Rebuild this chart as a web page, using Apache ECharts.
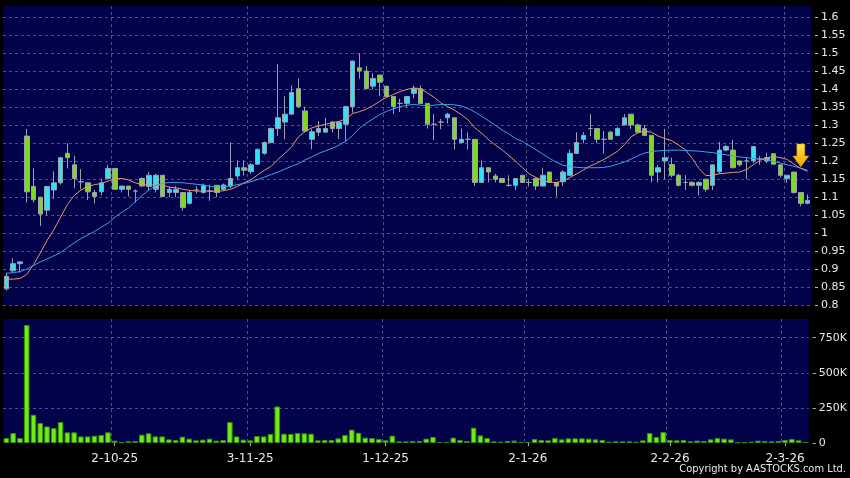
<!DOCTYPE html>
<html>
<head>
<meta charset="utf-8">
<script src="https://cdn.jsdelivr.net/npm/echarts@6/dist/echarts.min.js"></script>
<style>
html,body{margin:0;padding:0;background:#000;}
#chart{width:850px;height:478px;}
</style>
</head>
<body>
<div id="chart"></div>
<script>
const dates = [
'9-9-25','10-9-25','11-9-25','12-9-25','15-9-25','16-9-25','17-9-25','18-9-25','19-9-25','22-9-25','23-9-25','24-9-25','25-9-25','26-9-25','29-9-25','30-9-25',
'2-10-25','3-10-25','6-10-25','8-10-25','9-10-25','10-10-25','13-10-25','14-10-25','15-10-25','16-10-25','17-10-25','20-10-25','21-10-25','22-10-25','23-10-25','24-10-25','27-10-25','28-10-25','30-10-25','31-10-25',
'3-11-25','4-11-25','5-11-25','6-11-25','7-11-25','10-11-25','11-11-25','12-11-25','13-11-25','14-11-25','17-11-25','18-11-25','19-11-25','20-11-25','21-11-25','24-11-25','25-11-25','26-11-25','27-11-25','28-11-25',
'1-12-25','2-12-25','3-12-25','4-12-25','5-12-25','8-12-25','9-12-25','10-12-25','11-12-25','12-12-25','15-12-25','16-12-25','17-12-25','18-12-25','19-12-25','22-12-25','23-12-25','24-12-25','29-12-25','30-12-25','31-12-25',
'2-1-26','5-1-26','6-1-26','7-1-26','8-1-26','9-1-26','12-1-26','13-1-26','14-1-26','15-1-26','16-1-26','19-1-26','20-1-26','21-1-26','22-1-26','23-1-26','26-1-26','27-1-26','28-1-26','29-1-26','30-1-26',
'2-2-26','3-2-26','4-2-26','5-2-26','6-2-26','9-2-26','10-2-26','11-2-26','12-2-26','13-2-26','16-2-26','20-2-26','23-2-26','24-2-26','25-2-26','26-2-26','27-2-26',
'2-3-26','3-3-26','4-3-26','5-3-26'
];

const open = [
0.845,0.895,0.915,1.27,1.13,1.10,1.064,1.12,1.14,1.222,
1.19,1.143,1.14,1.113,1.115,1.152,1.18,1.122,1.131,1.117,
1.152,1.13,1.122,1.161,1.113,1.113,1.113,1.083,1.12,1.113,
1.117,1.133,1.122,1.131,1.159,1.182,1.171,1.192,1.222,1.252,
1.291,1.309,1.331,1.402,1.34,1.261,1.281,1.281,1.309,1.291,
1.303,1.352,1.46,1.451,1.409,1.44,1.409,1.38,1.361,1.361,
1.389,1.402,1.361,1.303,1.309,1.321,1.321,1.252,1.261,1.261,
1.141,1.182,1.159,1.152,1.133,1.133,1.161,1.141,1.152,1.131,
1.17,1.141,1.143,1.161,1.222,1.261,1.291,1.291,1.261,1.281,
1.272,1.301,1.331,1.301,1.291,1.272,1.17,1.201,1.191,1.161,
1.141,1.141,1.133,1.15,1.133,1.171,1.231,1.231,1.201,1.201,
1.201,1.206,1.201,1.221,1.19,1.152,1.17,1.113,1.083
];
const close = [
0.88,0.915,0.92,1.115,1.093,1.053,1.13,1.14,1.21,1.21,
1.152,1.143,1.115,1.102,1.14,1.18,1.122,1.131,1.122,1.117,
1.131,1.161,1.161,1.102,1.122,1.122,1.071,1.113,1.12,1.133,
1.117,1.113,1.134,1.152,1.182,1.175,1.19,1.233,1.252,1.291,
1.321,1.331,1.391,1.352,1.284,1.282,1.291,1.291,1.291,1.309,
1.352,1.479,1.451,1.402,1.43,1.42,1.38,1.352,1.361,1.38,
1.402,1.361,1.303,1.303,1.309,1.331,1.261,1.261,1.261,1.141,
1.182,1.17,1.15,1.141,1.133,1.152,1.141,1.141,1.131,1.161,
1.141,1.131,1.17,1.222,1.252,1.272,1.291,1.261,1.261,1.261,
1.291,1.321,1.301,1.281,1.272,1.161,1.182,1.21,1.161,1.133,
1.141,1.133,1.141,1.122,1.19,1.231,1.241,1.182,1.19,1.201,
1.241,1.206,1.21,1.192,1.161,1.161,1.113,1.083,1.091
];
const low = [
0.84,0.89,0.89,1.085,1.085,1.02,1.05,1.095,1.135,1.18,
1.125,1.122,1.092,1.083,1.105,1.15,1.122,1.113,1.102,1.085,
1.13,1.12,1.113,1.10,1.10,1.10,1.062,1.08,1.11,1.11,
1.09,1.10,1.118,1.125,1.15,1.16,1.165,1.19,1.218,1.25,
1.27,1.261,1.33,1.35,1.28,1.233,1.27,1.28,1.28,1.262,
1.256,1.335,1.43,1.40,1.40,1.381,1.378,1.331,1.337,1.35,
1.375,1.36,1.291,1.259,1.289,1.305,1.233,1.25,1.233,1.131,
1.14,1.141,1.141,1.141,1.13,1.12,1.14,1.13,1.12,1.13,
1.14,1.102,1.131,1.16,1.22,1.25,1.27,1.25,1.222,1.26,
1.27,1.30,1.29,1.28,1.27,1.141,1.141,1.15,1.155,1.13,
1.12,1.13,1.105,1.115,1.12,1.165,1.228,1.18,1.185,1.15,
1.195,1.19,1.195,1.19,1.155,1.14,1.11,1.075,1.08
];
const high = [
0.89,0.93,0.922,1.29,1.18,1.10,1.13,1.172,1.21,1.25,
1.215,1.178,1.14,1.12,1.152,1.19,1.18,1.131,1.131,1.122,
1.155,1.17,1.165,1.161,1.13,1.131,1.113,1.118,1.13,1.138,
1.135,1.133,1.138,1.252,1.203,1.203,1.195,1.236,1.255,1.294,
1.47,1.381,1.411,1.43,1.352,1.29,1.312,1.321,1.312,1.312,
1.355,1.48,1.5,1.465,1.445,1.44,1.409,1.38,1.374,1.382,
1.411,1.411,1.361,1.331,1.318,1.335,1.321,1.291,1.28,1.261,
1.203,1.182,1.165,1.152,1.161,1.152,1.161,1.152,1.152,1.182,
1.17,1.141,1.175,1.233,1.281,1.281,1.331,1.291,1.284,1.285,
1.295,1.331,1.331,1.305,1.301,1.272,1.19,1.29,1.21,1.165,
1.161,1.145,1.145,1.15,1.19,1.254,1.245,1.26,1.201,1.21,
1.241,1.215,1.224,1.221,1.19,1.161,1.17,1.113,1.108
];
const volumeK = [
35,71,35,840,201,142,118,106,149,76,
76,47,47,52,57,76,17,5,12,14,
59,69,47,47,26,21,45,31,19,24,
31,17,21,149,47,24,19,50,47,64,
260,66,64,71,69,66,19,21,21,33,
57,95,73,38,35,28,19,52,12,12,
14,14,31,43,7,7,38,21,14,109,
54,35,12,9,14,17,7,7,28,21,
19,35,26,33,33,33,31,26,21,9,
12,12,12,9,19,71,43,78,21,19,
21,12,17,14,26,35,31,26,5,5,
9,17,14,12,14,21,28,19,7
];
const maShort = [
0.872,0.872,0.874,0.885,0.912,0.945,0.98,1.01,1.045,1.08,
1.105,1.12,1.13,1.135,1.138,1.145,1.152,1.152,1.148,1.14,
1.135,1.133,1.135,1.134,1.128,1.126,1.122,1.119,1.117,1.117,
1.117,1.116,1.118,1.122,1.13,1.14,1.148,1.162,1.175,1.186,
1.205,1.222,1.24,1.268,1.283,1.293,1.298,1.303,1.307,1.311,
1.318,1.333,1.338,1.345,1.355,1.367,1.378,1.386,1.394,1.4,
1.404,1.402,1.39,1.378,1.362,1.352,1.342,1.33,1.315,1.293,
1.278,1.26,1.245,1.232,1.216,1.2,1.182,1.165,1.155,1.146,
1.142,1.141,1.145,1.155,1.165,1.176,1.187,1.195,1.205,1.216,
1.228,1.246,1.268,1.279,1.284,1.281,1.27,1.263,1.257,1.245,
1.232,1.208,1.18,1.16,1.161,1.165,1.167,1.169,1.17,1.177,
1.19,1.203,1.21,1.213,1.21,1.205,1.192,1.18,1.172
];
const maLong = [
0.888,0.89,0.893,0.9,0.91,0.92,0.928,0.937,0.946,0.96,
0.973,0.985,0.995,1.005,1.017,1.028,1.045,1.058,1.07,1.088,
1.105,1.12,1.133,1.138,1.141,1.141,1.14,1.138,1.136,1.134,
1.13,1.128,1.129,1.131,1.135,1.138,1.143,1.149,1.156,1.163,
1.17,1.178,1.186,1.193,1.204,1.212,1.222,1.229,1.236,1.245,
1.256,1.272,1.292,1.306,1.318,1.33,1.339,1.346,1.352,1.356,
1.358,1.356,1.355,1.356,1.358,1.358,1.357,1.354,1.347,1.337,
1.325,1.313,1.3,1.287,1.276,1.263,1.255,1.244,1.232,1.22,
1.208,1.197,1.189,1.185,1.183,1.182,1.182,1.182,1.183,1.186,
1.192,1.198,1.206,1.215,1.223,1.227,1.229,1.23,1.231,1.231,
1.23,1.229,1.228,1.226,1.224,1.221,1.218,1.215,1.212,1.21,
1.208,1.206,1.204,1.2,1.195,1.19,1.186,1.181,1.175
];
const monthLabels = ['2-10-25','3-11-25','1-12-25','2-1-26','2-2-26','2-3-26'];

const labelIdx = new Set(monthLabels.map(l => dates.indexOf(l)));
const showAt = (i) => labelIdx.has(i);
const lastIdx = dates.length - 1;

const FONT = '"DejaVu Sans", Verdana, sans-serif';
const gridLineStyle = { color: '#4e4e8e', width: 1, type: [3, 3] };

const chart = echarts.init(document.getElementById('chart'), null, { renderer: 'canvas' });
chart.setOption({
  animation: false,
  backgroundColor: '#000000',
  grid: [
    { left: 3, right: 39, top: 6, height: 299, show: true, backgroundColor: '#02024b', borderWidth: 0 },
    { left: 3, right: 39, top: 319, height: 124, show: true, backgroundColor: '#02024b', borderWidth: 0 }
  ],
  xAxis: [
    {
      type: 'category', gridIndex: 0, data: dates, boundaryGap: true,
      axisLine: { show: false }, axisTick: { show: false }, axisLabel: { show: false },
      splitLine: { show: true, interval: showAt, showMaxLine: false, lineStyle: gridLineStyle }
    },
    {
      type: 'category', gridIndex: 1, data: dates, boundaryGap: true, offset: 3,
      axisLine: { show: false },
      axisTick: { show: true, alignWithLabel: true, interval: showAt, length: 3, lineStyle: { color: '#aaaaaa' } },
      axisLabel: { interval: showAt, color: '#e8e8e8', fontSize: 12, fontFamily: FONT, margin: 7 },
      splitLine: { show: true, interval: showAt, showMaxLine: false, lineStyle: gridLineStyle }
    }
  ],
  yAxis: [
    {
      type: 'value', gridIndex: 0, position: 'right', min: 0.8, max: 1.632, interval: 0.05, offset: 4,
      axisLine: { show: false },
      axisTick: { show: true, length: 3, lineStyle: { color: '#bbbbbb' } },
      axisLabel: { color: '#e8e8e8', fontSize: 11, fontFamily: FONT, margin: 6, showMaxLabel: false,
        formatter: v => String(parseFloat(v.toFixed(2))) },
      splitLine: { show: true, showMaxLine: false, lineStyle: gridLineStyle }
    },
    {
      type: 'value', gridIndex: 1, position: 'right', min: 0, max: 883000, interval: 250000, offset: 4,
      axisLine: { show: false },
      axisTick: { show: true, length: 3, lineStyle: { color: '#bbbbbb' } },
      axisLabel: { color: '#e8e8e8', fontSize: 11, fontFamily: FONT, margin: 6, showMaxLabel: false,
        formatter: v => v === 0 ? '0' : (v / 1000) + 'K' },
      splitLine: { show: true, showMaxLine: false, showMinLine: false, lineStyle: gridLineStyle }
    }
  ],
  series: [
    {
      type: 'candlestick', xAxisIndex: 0, yAxisIndex: 0, barWidth: 5,
      data: dates.map((d, i) => [open[i], close[i], low[i], high[i]]),
      itemStyle: { color: '#30e2f2', color0: '#7cdc1c', borderColor: '#9aa0b0', borderColor0: '#9aa0b0', borderWidth: 1 }
    },
    {
      type: 'line', xAxisIndex: 0, yAxisIndex: 0, data: maShort, symbol: 'none',
      lineStyle: { color: '#e8946a', width: 1 }
    },
    {
      type: 'line', xAxisIndex: 0, yAxisIndex: 0, data: maLong, symbol: 'none',
      lineStyle: { color: '#3ca2e4', width: 1 },
      markPoint: {
        symbol: 'path://M4,0 L12,0 L12,12 L16,12 L8,23 L0,12 L4,12 Z',
        symbolSize: [16, 23],
        symbolOffset: [0, '-55%'],
        label: { show: false },
        itemStyle: {
          color: new echarts.graphic.LinearGradient(0, 0, 0, 1, [
            { offset: 0, color: '#ffe83a' }, { offset: 1, color: '#f0a000' }
          ]),
          borderColor: '#c88a00', borderWidth: 0.5
        },
        data: [{ coord: [lastIdx - 1, maLong[lastIdx - 1]] }]
      }
    },
    {
      type: 'bar', xAxisIndex: 1, yAxisIndex: 1, barWidth: '82%',
      data: volumeK.map(v => v * 1000),
      itemStyle: { color: '#6cee12', borderColor: '#3a9000', borderWidth: 1 }
    }
  ],
  graphic: [
    { type: 'text', right: 4, top: 464,
      style: { text: 'Copyright by AASTOCKS.com Ltd.', fill: '#e8e8e8',
        font: '11px "Liberation Sans Narrow", "DejaVu Sans Condensed", sans-serif' } }
  ]
});
</script>
</body>
</html>
